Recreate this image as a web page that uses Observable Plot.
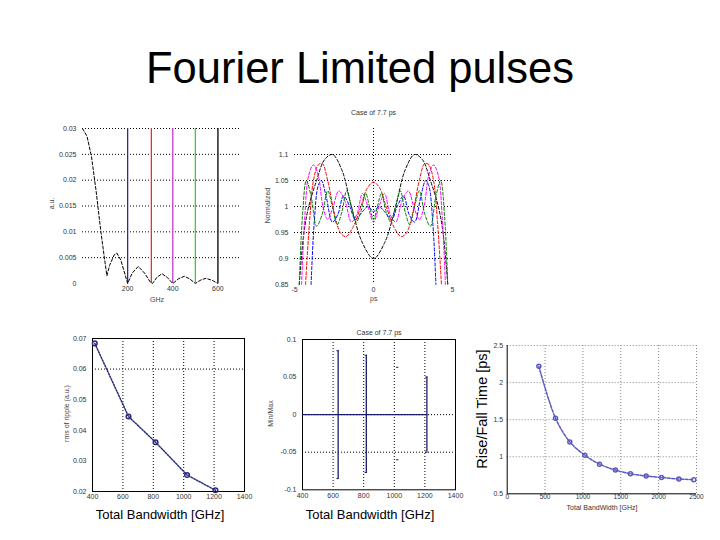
<!DOCTYPE html>
<html><head><meta charset="utf-8">
<script src="https://cdn.jsdelivr.net/npm/d3@7"></script>
<script src="https://cdn.jsdelivr.net/npm/@observablehq/plot@0.6"></script>
<style>
body{margin:0;width:720px;height:540px;background:#fff;position:relative;overflow:hidden;font-family:"Liberation Sans",Arial,sans-serif;color:#000}
.abs{position:absolute;white-space:nowrap}
.small{font-size:7px;color:#444}
.rot{transform:rotate(-90deg);transform-origin:center center}
</style></head><body>
<div class="abs" style="left:0;width:720px;top:43px;text-align:center;font-size:43.5px;line-height:50px">Fourier Limited pulses</div>
<div id="p1" class="abs" style="left:30px;top:110px"></div>
<div id="p2" class="abs" style="left:250px;top:100px"></div>
<div id="p3" class="abs" style="left:40px;top:320px"></div>
<div id="p4" class="abs" style="left:260px;top:320px"></div>
<div id="p5" class="abs" style="left:480px;top:330px"></div>
<script>
// ---------- Panel 1: spectrum ----------
const specX = [0,20,40,60,80,100,108,120,140,152,170,190,200,220,247,275,300,310,330,352,375,400,425,451,475,500,525,547,575,600];
const specY = [0.03,0.0285,0.0245,0.018,0.0105,0.004,0.0015,0.0035,0.0055,0.0059,0.0045,0.0015,0.0,0.002,0.0033,0.002,0.0003,0.0,0.0012,0.0019,0.0012,0.0,0.0009,0.0014,0.0009,0.0,0.0007,0.001,0.0006,0.0];
const cutFreq = [200,305,400,500,600];
const cutColor = ["#2a2a9a","#d23a3a","#c83ac8","#3ccc3c","#000000"];
const p1YTicks = [0,0.005,0.01,0.015,0.02,0.025,0.03];
const p1YLabels = ["0","0.005","0.01","0.015","0.02","0.025","0.03"];
const p1XTicks = [200,400,600];

// ---------- Panel 2: pulse shapes ----------
const pulseBlack = [[-4.7,0.85],[-4.4,0.95],[-4.1,1.0],[-3.6,1.05],[-3.1,1.09],[-2.6,1.1],[-2.0,1.07],[-1.4,1.0],[-0.7,0.93],[0,0.9],[0.7,0.93],[1.4,1.0],[2.0,1.07],[2.6,1.1],[3.1,1.09],[3.6,1.05],[4.1,1.0],[4.4,0.95],[4.7,0.85]];
const pulseBlue = [[-3.95,0.85],[-3.75,0.97],[-3.5,1.04],[-3.3,1.05],[-3.0,1.02],[-2.6,0.97],[-2.25,0.985],[-1.9,1.02],[-1.5,1.0],[-1.15,0.975],[-0.7,0.99],[-0.35,1.0],[0,0.99],[0.35,1.0],[0.7,0.99],[1.15,0.975],[1.5,1.0],[1.9,1.02],[2.25,0.985],[2.6,0.97],[3.0,1.02],[3.3,1.05],[3.5,1.04],[3.75,0.97],[3.95,0.85]];
const pulseRed = [[-4.3,0.85],[-4.05,0.97],[-3.8,1.05],[-3.5,1.08],[-3.25,1.083],[-2.9,1.05],[-2.5,0.99],[-2.1,0.95],[-1.75,0.942],[-1.3,0.96],[-0.8,1.0],[-0.4,1.035],[0,1.047],[0.4,1.035],[0.8,1.0],[1.3,0.96],[1.75,0.942],[2.1,0.95],[2.5,0.99],[2.9,1.05],[3.25,1.083],[3.5,1.08],[3.8,1.05],[4.05,0.97],[4.3,0.85]];
const pulseMagenta = [[-4.55,0.85],[-4.35,0.98],[-4.1,1.06],[-3.8,1.08],[-3.5,1.06],[-3.2,1.0],[-2.9,0.975],[-2.55,1.0],[-2.2,1.03],[-1.8,1.01],[-1.4,0.97],[-1.05,0.985],[-0.7,1.025],[-0.35,1.0],[0,0.97],[0.35,1.0],[0.7,1.025],[1.05,0.985],[1.4,0.97],[1.8,1.01],[2.2,1.03],[2.55,1.0],[2.9,0.975],[3.2,1.0],[3.5,1.06],[3.8,1.08],[4.1,1.06],[4.35,0.98],[4.55,0.85]];
const pulseGreen = [[-4.7,0.85],[-4.5,0.98],[-4.25,1.05],[-3.95,1.02],[-3.6,0.962],[-3.25,0.985],[-2.9,1.03],[-2.6,1.0],[-2.3,0.965],[-2.0,0.99],[-1.7,1.03],[-1.4,1.0],[-1.1,0.97],[-0.8,0.99],[-0.5,1.025],[-0.25,1.0],[0,0.975],[0.25,1.0],[0.5,1.025],[0.8,0.99],[1.1,0.97],[1.4,1.0],[1.7,1.03],[2.0,0.99],[2.3,0.965],[2.6,1.0],[2.9,1.03],[3.25,0.985],[3.6,0.962],[3.95,1.02],[4.25,1.05],[4.5,0.98],[4.7,0.85]];
const pulseNames = ["black","blue","red","magenta","green"];
const pulseColors = ["#000000","#1a1a8c","#c83232","#d040d0","#40c840"];
const p2YTicks = [0.85,0.9,0.95,1,1.05,1.1];
const p2YLabels = ["0.85","0.9","0.95","1","1.05","1.1"];
const p2XTicks = [-5,0,5];

// ---------- Panel 3: rms ripple vs bandwidth ----------
const bwRms = [415,637,815,1022,1209];
const rmsVal = [0.0684,0.0445,0.0361,0.0254,0.0204];
const p3YTicks = [0.02,0.03,0.04,0.05,0.06,0.07];
const p3XTicks = [400,600,800,1000,1200,1400];

// ---------- Panel 4: min/max ----------
const barX = [633,817,1022,1213];
const barMax = [0.085,0.079,0.063,0.05];
const barMin = [-0.085,-0.077,-0.06,-0.05];
const barLine = [true,true,false,true];
const meanX = [400,633,817,1022,1213];
const meanY = [0,0,0,0,0];
const p4YTicks = [-0.1,-0.05,0,0.05,0.1];
const p4XTicks = [400,600,800,1000,1200,1400];

// ---------- Panel 5: rise/fall time ----------
const bwRise = [418,638,827,1026,1219,1430,1628,1835,2038,2267,2465];
const riseVal = [2.22,1.52,1.2,1.02,0.9,0.82,0.77,0.74,0.72,0.70,0.69];
const p5YTicks = [0.5,1,1.5,2,2.5];
const p5XTicks = [0,500,1000,1500,2000,2500];

const baseStyle = {fontSize:"7px", fontFamily:"'Liberation Sans',Arial,sans-serif", color:"#333", background:"transparent", overflow:"visible"};
const dot = "1,2";
const plain = d => String(d);

// Panel 1
{
  const spec = specX.map((x,i)=>({x, y:specY[i]}));
  const cuts = cutFreq.map((f,i)=>({f, c:cutColor[i]}));
  const fmt = d => p1YLabels[p1YTicks.indexOf(d)];
  const plot = Plot.plot({
    width:220, height:200, marginLeft:52, marginRight:10, marginTop:18, marginBottom:27,
    style: baseStyle,
    x:{domain:[0,700]}, y:{domain:[0,0.03]},
    marks:[
      Plot.ruleY(p1YTicks.slice(1), {stroke:"#000", strokeDasharray:dot, strokeWidth:1}),
      Plot.ruleX(cuts, {x:"f", stroke:"c", strokeWidth:1.3}),
      Plot.line(spec, {x:"x", y:"y", stroke:"#000", strokeWidth:1, strokeDasharray:"3,2"}),
      Plot.axisY({ticks:p1YTicks, tickFormat:fmt, tickSize:0, tickPadding:6, label:null}),
      Plot.axisX({ticks:p1XTicks, tickFormat:plain, tickSize:0, tickPadding:3, label:null})
    ]
  });
  document.getElementById("p1").append(plot);
}
// Panel 2
{
  const curves = [pulseBlack,pulseBlue,pulseRed,pulseMagenta,pulseGreen];
  const data = curves.flatMap((c,k)=>c.map(([x,y])=>({x,y,s:pulseNames[k]})));
  const fmt = d => p2YLabels[p2YTicks.indexOf(d)];
  const plot = Plot.plot({
    width:220, height:210, marginLeft:44, marginRight:18, marginTop:28, marginBottom:26,
    style: baseStyle,
    x:{domain:[-5,5]}, y:{domain:[0.85,1.15]},
    color:{domain:pulseNames, range:pulseColors},
    marks:[
      Plot.ruleY(p2YTicks.slice(1), {stroke:"#000", strokeDasharray:dot}),
      Plot.ruleX([0], {stroke:"#000", strokeDasharray:dot}),
      Plot.line(data, {x:"x", y:"y", z:"s", stroke:"s", strokeWidth:1, strokeDasharray:"3,2", curve:"catmull-rom"}),
      Plot.axisY({ticks:p2YTicks, tickFormat:fmt, tickSize:0, tickPadding:6, label:null}),
      Plot.axisX({ticks:p2XTicks, tickFormat:plain, tickSize:0, tickPadding:3, label:null}),
      Plot.text(["Case of 7.7 ps"], {frameAnchor:"top", dy:-18, fontSize:7})
    ]
  });
  document.getElementById("p2").append(plot);
}
// Panel 3
{
  const data = bwRms.map((x,i)=>({x, y:rmsVal[i]}));
  const plot = Plot.plot({
    width:220, height:190, marginLeft:52, marginRight:16, marginTop:18, marginBottom:19,
    style: baseStyle,
    x:{domain:[400,1400]}, y:{domain:[0.02,0.07]},
    marks:[
      Plot.ruleX([600,800,1000,1200], {stroke:"#000", strokeDasharray:dot}),
      Plot.ruleY([0.06], {stroke:"#000", strokeDasharray:dot}),
      Plot.frame({stroke:"#000"}),
      Plot.line(data, {x:"x", y:"y", stroke:"#2b2b7a", strokeDasharray:"1.5,1.5"}),
      Plot.dot(data, {x:"x", y:"y", r:2.3, stroke:"#2b2b7a", fill:"none"}),
      Plot.axisY({ticks:p3YTicks, tickFormat:plain, tickSize:0, tickPadding:6, label:null}),
      Plot.axisX({ticks:p3XTicks, tickFormat:plain, tickSize:0, tickPadding:3, label:null})
    ]
  });
  document.getElementById("p3").append(plot);
}
// Panel 4
{
  const bars = barX.map((x,i)=>({x, hi:barMax[i], lo:barMin[i], line:barLine[i]}));
  const means = meanX.map((x,i)=>({x, y:meanY[i]}));
  const plot = Plot.plot({
    width:200, height:190, marginLeft:42, marginRight:5, marginTop:19, marginBottom:20.7,
    style: baseStyle,
    x:{domain:[400,1400]}, y:{domain:[-0.1,0.1]},
    marks:[
      Plot.ruleX([600,800,1000,1200], {stroke:"#000", strokeDasharray:dot}),
      Plot.ruleY([0,-0.05], {stroke:"#000", strokeDasharray:dot}),
      Plot.frame({stroke:"#000"}),
      Plot.line(means, {x:"x", y:"y", stroke:"#1c1c66", strokeWidth:1.3}),
      Plot.ruleX(bars.filter(d=>d.line), {x:"x", y1:"lo", y2:"hi", stroke:"#1c1c66", strokeWidth:1.3}),
      Plot.ruleY(bars, {y:"hi", x1:d=>d.x-8, x2:d=>d.x+8, stroke:"#1c1c66"}),
      Plot.ruleY(bars, {y:"lo", x1:d=>d.x-8, x2:d=>d.x+8, stroke:"#1c1c66"}),
      Plot.axisY({ticks:p4YTicks, tickFormat:plain, tickSize:0, tickPadding:6, label:null}),
      Plot.axisX({ticks:p4XTicks, tickFormat:plain, tickSize:0, tickPadding:3, label:null}),
      Plot.text(["Case of 7.7 ps"], {frameAnchor:"top", dy:-9, fontSize:7})
    ]
  });
  document.getElementById("p4").append(plot);
}
// Panel 5
{
  const data = bwRise.map((x,i)=>({x, y:riseVal[i]}));
  const plot = Plot.plot({
    width:240, height:190, marginLeft:26.7, marginRight:24, marginTop:15, marginBottom:26.7,
    style: baseStyle,
    x:{domain:[0,2500]}, y:{domain:[0.5,2.5]},
    marks:[
      Plot.ruleX(p5XTicks.slice(1), {stroke:"#888", strokeDasharray:dot}),
      Plot.ruleY(p5YTicks.slice(1), {stroke:"#888", strokeDasharray:dot}),
      Plot.ruleX([0], {stroke:"#000"}),
      Plot.ruleY([0.5], {stroke:"#000"}),
      Plot.line(data, {x:"x", y:"y", stroke:"#5a5ac0", strokeDasharray:"3,1.5", curve:"catmull-rom"}),
      Plot.dot(data, {x:"x", y:"y", r:2, stroke:"#5a5ac0", fill:"none"}),
      Plot.axisY({ticks:p5YTicks, tickFormat:plain, tickSize:0, tickPadding:4, label:null}),
      Plot.axisX({ticks:p5XTicks, tickFormat:plain, tickSize:0, tickPadding:1, label:null, fontSize:6.5})
    ]
  });
  document.getElementById("p5").append(plot);
}
</script>
<!-- axis labels -->
<div class="abs small" style="left:150px;top:296px">GHz</div>
<div class="abs small rot" style="left:36px;top:200px;width:30px;text-align:center">a.u.</div>
<div class="abs small" style="left:370px;top:295px">ps</div>
<div class="abs small rot" style="left:247px;top:202px;width:40px;text-align:center">Normalized</div>
<div class="abs small rot" style="left:36px;top:410px;width:60px;text-align:center">rms of ripple (a.u.)</div>
<div class="abs small rot" style="left:252px;top:410px;width:36px;text-align:center">Min/Max</div>
<div class="abs" style="left:40px;width:240px;top:507px;text-align:center;font-size:13px">Total Bandwidth [GHz]</div>
<div class="abs" style="left:250px;width:240px;top:507px;text-align:center;font-size:13px">Total Bandwidth [GHz]</div>
<div class="abs rot" style="left:402px;top:400px;width:160px;text-align:center;font-size:14.5px;line-height:18px">Rise/Fall Time [ps]</div>
<div class="abs" style="left:507px;width:190px;top:504px;text-align:center;font-size:7px;color:#333">Total BandWidth [GHz]</div>
</body></html>
